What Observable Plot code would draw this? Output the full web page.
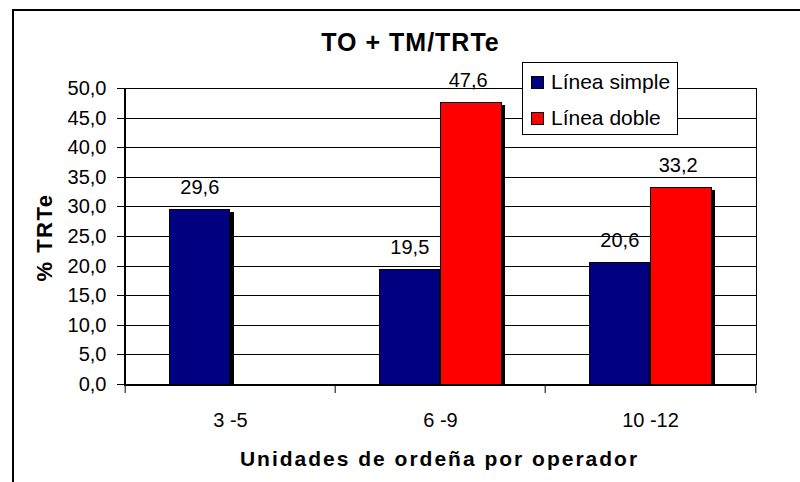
<!DOCTYPE html>
<html>
<head>
<meta charset="utf-8">
<script src="https://cdn.jsdelivr.net/npm/d3@7"></script>
<script src="https://cdn.jsdelivr.net/npm/@observablehq/plot@0.6"></script>
<style>
  html, body { margin: 0; padding: 0; background: #fff; }
  #wrap { position: relative; width: 800px; height: 482px; overflow: hidden; font-family: "Liberation Sans", Arial, sans-serif; }
  #border { position: absolute; left: 12px; top: 9px; width: 900px; height: 600px; border: 2px solid #000; box-sizing: border-box; pointer-events: none; }
  #legend { position: absolute; left: 522px; top: 62px; width: 156px; height: 73px; box-sizing: border-box; border: 1px solid #000; background: #fff; font-size: 21px; color: #000; }
  #legend .row { position: absolute; left: 8px; display: flex; align-items: center; height: 24px; }
  #legend .sw { width: 11px; height: 11px; border: 1px solid #000; margin-right: 7px; }
</style>
</head>
<body>
<div id="wrap"></div>
<script>
const categories = ["3 -5", "6 -9", "10 -12"];
const seriesNames = ["Línea simple", "Línea doble"];
const simpleValues = [29.6, 19.5, 20.6];
const dobleValues = [null, 47.6, 33.2];
const seriesColors = ["#000080", "#FF0000"];
const yTicks = [0, 5, 10, 15, 20, 25, 30, 35, 40, 45, 50];
const chartTitle = "TO + TM/TRTe";
const xTitle = "Unidades de ordeña por operador";
const yTitle = "% TRTe";

const simpleRows = categories.map((c, i) => ({cat: c, value: simpleValues[i]})).filter(d => d.value != null);
const dobleRows = categories.map((c, i) => ({cat: c, value: dobleValues[i]})).filter(d => d.value != null);

const fmt = d => d.toFixed(1).replace(".", ",");
const W = 800, H = 482, ML = 124, MR = 44, MT = 88, MB = 98;
const bw = (W - ML - MR) / categories.length;
const gap = 44, barW = (bw - 2 * gap) / 2;

const font = "'Liberation Sans', Arial, sans-serif";
const crisp = {shapeRendering: "crispEdges"};

const chart = Plot.plot({
  width: W, height: H,
  marginLeft: ML, marginRight: MR, marginTop: MT, marginBottom: MB,
  style: {fontFamily: font, fontSize: "20px", color: "black", background: "transparent"},
  x: {type: "band", domain: categories, padding: 0, round: true},
  y: {domain: [0, 50], round: true},
  marks: [
    Plot.ruleY(yTicks, {stroke: "black", strokeWidth: 1, ...crisp}),
    // shadows
    Plot.barY(simpleRows, {x: "cat", y: "value", fill: "black", insetLeft: gap, insetRight: gap + barW, insetTop: 3, dx: 4, ...crisp}),
    Plot.barY(dobleRows, {x: "cat", y: "value", fill: "black", insetLeft: gap + barW, insetRight: gap, insetTop: 3, dx: 4, ...crisp}),
    // bars
    Plot.barY(simpleRows, {x: "cat", y: "value", fill: seriesColors[0], stroke: "black", strokeWidth: 1, insetLeft: gap, insetRight: gap + barW, ...crisp}),
    Plot.barY(dobleRows, {x: "cat", y: "value", fill: seriesColors[1], stroke: "black", strokeWidth: 1, insetLeft: gap + barW, insetRight: gap, ...crisp}),
    // value labels
    Plot.text(simpleRows, {x: "cat", y: "value", text: d => fmt(d.value), dx: -barW / 2, dy: -22, fontSize: 20, fill: "black"}),
    Plot.text(dobleRows, {x: "cat", y: "value", text: d => fmt(d.value), dx: barW / 2 - 3, dy: -22, fontSize: 20, fill: "black"}),
    Plot.frame({stroke: "black", strokeWidth: 1, ...crisp}),
    Plot.ruleY([0], {stroke: "black", strokeWidth: 2, ...crisp}),
    Plot.ruleX([categories[0]], {stroke: "black", strokeWidth: 1.5, dx: -bw / 2, ...crisp}),
    Plot.axisY({ticks: yTicks, tickSize: 7, tickPadding: 11, tickFormat: fmt, label: null, fontSize: 20}),
    Plot.axisX({tickSize: 0, tickPadding: 28, label: null, fontSize: 20}),
    Plot.axisX({ticks: categories, tickSize: 9, tickFormat: () => "", label: null, dx: -bw / 2}),
    Plot.axisX({ticks: [categories[categories.length - 1]], tickSize: 9, tickFormat: () => "", label: null, dx: bw / 2}),
    Plot.text([chartTitle], {text: d => d, frameAnchor: "top", textAnchor: "middle", lineAnchor: "middle", dx: -30, dy: -46, fontSize: 25, fontWeight: "bold", fill: "black"}),
    Plot.text([xTitle], {text: d => d, frameAnchor: "bottom", textAnchor: "middle", lineAnchor: "middle", dx: -1, dy: 75, fontSize: 21, fontWeight: "bold", fill: "black"}),
    Plot.text([yTitle], {text: d => d, frameAnchor: "left", textAnchor: "middle", lineAnchor: "middle", dx: -80, dy: 1, rotate: -90, fontSize: 22, fontWeight: "bold", fill: "black"})
  ]
});

const spacing = new Map([[chartTitle, "1px"], [xTitle, "2px"], [yTitle, "1.5px"]]);
d3.select(chart).selectAll("text").each(function() {
  const s = spacing.get(this.textContent);
  if (s) this.style.letterSpacing = s;
});

const wrap = document.getElementById("wrap");
wrap.appendChild(chart);

const border = document.createElement("div");
border.id = "border";
wrap.appendChild(border);

const legend = document.createElement("div");
legend.id = "legend";
seriesNames.forEach((name, i) => {
  const row = document.createElement("div");
  row.className = "row";
  row.style.top = (i === 0 ? 7 : 43) + "px";
  const sw = document.createElement("div");
  sw.className = "sw";
  sw.style.background = seriesColors[i];
  const label = document.createElement("span");
  label.textContent = name;
  row.appendChild(sw);
  row.appendChild(label);
  legend.appendChild(row);
});
wrap.appendChild(legend);
</script>
</body>
</html>
